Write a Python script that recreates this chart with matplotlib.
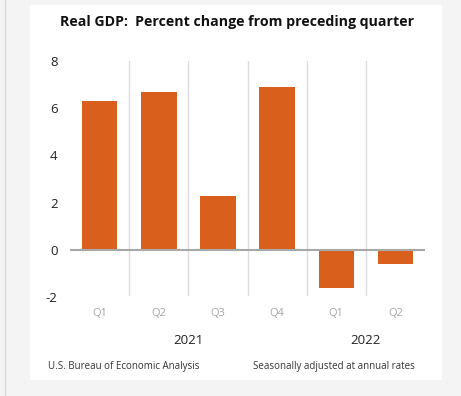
import matplotlib.pyplot as plt
from matplotlib.patches import Rectangle
from matplotlib.lines import Line2D

# Real GDP, percent change from preceding quarter (SAAR)
quarters = ["Q1", "Q2", "Q3", "Q4", "Q1", "Q2"]
gdp_change = [6.3, 6.7, 2.3, 6.9, -1.6, -0.6]
years = ["2021", "2022"]
year_quarters = [4, 2]  # how many quarters fall under each year label

bar_color = "#D9601C"
plt.rcParams["font.family"] = ["Open Sans", "DejaVu Sans"]

fig = plt.figure(figsize=(4.61, 3.96), dpi=100, facecolor="#f4f4f4")
W, H = 461, 396

# white card behind the chart, plus the faint edge line on the left
fig.patches.append(Rectangle((30 / W, 1 - 380 / H), 412 / W, 375 / H,
                             transform=fig.transFigure, facecolor="white",
                             edgecolor="none", zorder=-5))
fig.lines.append(Line2D([5 / W, 5 / W], [0, 1], transform=fig.transFigure,
                        color="#d8d8d8", lw=1, zorder=-5))

ax = fig.add_axes([70 / W, 1 - 297 / H, 355 / W, 236 / H])
ax.set_facecolor("none")
ax.set_zorder(2)

x = list(range(len(gdp_change)))
ax.bar(x, gdp_change, width=0.6, color=bar_color, zorder=2)

ax.set_xlim(-0.5, len(x) - 0.5)
ax.set_ylim(-2, 8)
ax.set_yticks([-2, 0, 2, 4, 6, 8])
ax.set_yticklabels(["-2", "0", "2", "4", "6", "8"])
ax.tick_params(axis="y", length=0, pad=9, labelsize=9.5, labelcolor="#222222")
ax.set_xticks([])

for s in ax.spines.values():
    s.set_visible(False)

# zero line
ax.axhline(0, color="#a8a8a8", lw=1.5, zorder=3)

# separators between quarters
for i in range(len(x) - 1):
    ax.plot([i + 0.5, i + 0.5], [-1.93, 8], color="#dcdcdc", lw=1, zorder=1)

# quarter labels and year labels
for i, q in enumerate(quarters):
    ax.text(i, -2.7, q, ha="center", va="center", fontsize=8, color="#a6a6a6",
            clip_on=False)

start = 0
for yr, n in zip(years, year_quarters):
    ax.text(start + (n - 1) / 2, -3.85, yr, ha="center", va="center",
            fontsize=9.5, color="#222222", clip_on=False)
    start += n

fig.text(237 / W, 1 - 22 / H, "Real GDP:  Percent change from preceding quarter",
         ha="center", va="center", fontsize=10.2, fontweight="bold", color="#111111")
fig.text(48 / W, 1 - 366 / H, "U.S. Bureau of Economic Analysis",
         ha="left", va="center", fontsize=7, color="#333333")
fig.text(415 / W, 1 - 366 / H, "Seasonally adjusted at annual rates",
         ha="right", va="center", fontsize=7, color="#333333")

fig.savefig("out.png", dpi=100, facecolor=fig.get_facecolor())
